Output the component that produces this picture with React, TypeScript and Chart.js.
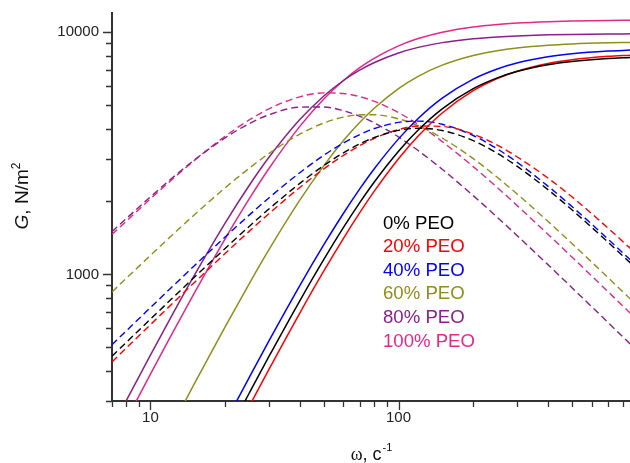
import React, { useEffect, useRef } from 'react';
import { Chart, registerables } from 'chart.js';

Chart.register(...registerables);

// Angular frequency, c^-1
const omega = [7, 8, 10, 12, 15, 20, 25, 30, 40, 50, 60, 70, 80, 100, 120, 150, 200, 250, 300, 400, 500, 700, 860];

const seriesNames = ['0% PEO', '20% PEO', '40% PEO', '60% PEO', '80% PEO', '100% PEO'];
const seriesColors = ['#000000', '#ff0000', '#0000ff', '#8f8f1a', '#8b1f8b', '#e3288a'];

// Storage modulus G' (solid lines), N/m^2
const gStore0 = [26.3, 34.3, 53.5, 76.8, 119, 210, 323, 457, 778, 1153, 1562, 1987, 2412, 3223, 3944, 4827, 5845, 6477, 6882, 7338, 7569, 7784, 7862];
const gStore20 = [23.1, 30.1, 47.0, 67.5, 105, 185, 285, 404, 692, 1033, 1409, 1806, 2211, 3001, 3724, 4638, 5733, 6436, 6895, 7422, 7694, 7948, 8041];
const gStore40 = [30.6, 40.0, 62.3, 89.4, 139, 244, 375, 530, 899, 1326, 1788, 2265, 2737, 3626, 4404, 5341, 6400, 7047, 7456, 7913, 8144, 8357, 8434];
const gStore60 = [78.9, 103, 160, 228, 352, 607, 914, 1261, 2024, 2812, 3567, 4255, 4865, 5850, 6573, 7312, 8013, 8385, 8602, 8830, 8939, 9036, 9071];
const gStore80 = [233, 302, 464, 655, 987, 1628, 2328, 3037, 4356, 5453, 6317, 6984, 7498, 8208, 8653, 9055, 9394, 9560, 9653, 9747, 9791, 9829, 9843];
const gStore100 = [193, 251, 387, 549, 834, 1402, 2048, 2730, 4083, 5298, 6319, 7151, 7819, 8783, 9414, 10001, 10512, 10766, 10909, 11055, 11125, 11186, 11207];

// Loss modulus G'' (dashed lines), N/m^2
const gLoss0 = [459, 524, 653, 781, 971, 1280, 1577, 1860, 2375, 2814, 3176, 3462, 3677, 3932, 4009, 3926, 3565, 3161, 2799, 2238, 1847, 1356, 1115];
const gLoss20 = [435, 497, 620, 742, 923, 1219, 1505, 1779, 2284, 2726, 3100, 3406, 3648, 3961, 4097, 4081, 3790, 3420, 3060, 2500, 2090, 1550, 1280];
const gLoss40 = [512, 585, 729, 872, 1083, 1427, 1756, 2067, 2629, 3104, 3488, 3785, 4002, 4243, 4294, 4166, 3744, 3298, 2908, 2314, 1906, 1397, 1148];
const gLoss60 = [846, 964, 1197, 1426, 1758, 2276, 2742, 3152, 3795, 4218, 4458, 4559, 4561, 4387, 4108, 3656, 3005, 2516, 2151, 1656, 1341, 968, 791];
const gLoss80 = [1499, 1701, 2090, 2457, 2961, 3663, 4190, 4555, 4901, 4908, 4738, 4490, 4217, 3694, 3245, 2716, 2114, 1721, 1448, 1097, 881, 632, 515];
const gLoss100 = [1461, 1660, 2050, 2423, 2948, 3717, 4341, 4823, 5409, 5616, 5582, 5414, 5180, 4655, 4158, 3534, 2786, 2283, 1927, 1465, 1179, 847, 691];

const storageSeries = [gStore0, gStore20, gStore40, gStore60, gStore80, gStore100];
const lossSeries = [gLoss0, gLoss20, gLoss40, gLoss60, gLoss80, gLoss100];

const xMajorTicks = [10, 100];
const xMinorTicks = [7, 8, 9, 20, 30, 40, 50, 60, 70, 80, 90, 200, 300, 400, 500, 600, 700, 800];
const yMajorTicks = [1000, 10000];
const yMinorTicks = [300, 400, 500, 600, 700, 800, 900, 2000, 3000, 4000, 5000, 6000, 7000, 8000, 9000];

const X_MIN = 7;
const X_MAX = 857;
const Y_MIN = 300;
const Y_MAX = 12000;

const SANS = '"Liberation Sans", Arial, Helvetica, sans-serif';
const SERIF = '"Liberation Serif", "Times New Roman", serif';
const AXIS_COLOR = '#333333';

const toPoints = (vals: number[]) => omega.map((w, i) => ({ x: w, y: vals[i] }));

const decorPlugin = {
  id: 'decor',
  afterDraw(chart: any) {
    const ctx = chart.ctx as CanvasRenderingContext2D;
    const area = chart.chartArea;
    const xs = chart.scales.x;
    const ys = chart.scales.y;
    ctx.save();
    // tick marks
    ctx.strokeStyle = AXIS_COLOR;
    ctx.lineWidth = 1.3;
    ctx.beginPath();
    [...xMajorTicks, ...xMinorTicks].forEach((v) => {
      const px = Math.round(xs.getPixelForValue(v)) + 0.5;
      const len = xMajorTicks.includes(v) ? 8 : 5;
      ctx.moveTo(px, area.bottom);
      ctx.lineTo(px, area.bottom + 1 + len);
    });
    [...yMajorTicks, ...yMinorTicks].forEach((v) => {
      const py = Math.round(ys.getPixelForValue(v)) + 0.5;
      const len = yMajorTicks.includes(v) ? 8 : 5;
      ctx.moveTo(area.left, py);
      ctx.lineTo(area.left - 1 - len, py);
    });
    ctx.stroke();

    // y axis title: G, N/m^2
    ctx.fillStyle = '#111111';
    ctx.textBaseline = 'alphabetic';
    ctx.textAlign = 'left';
    const yFont = 19;
    ctx.save();
    ctx.translate(28, 196);
    ctx.rotate(-Math.PI / 2);
    ctx.font = `italic ${yFont}px ${SANS}`;
    const wG = ctx.measureText('G').width;
    ctx.font = `${yFont}px ${SANS}`;
    const wRest = ctx.measureText(', N/m').width;
    ctx.font = `${12}px ${SANS}`;
    const wSup = ctx.measureText('2').width;
    let cx = -(wG + wRest + wSup) / 2;
    ctx.font = `italic ${yFont}px ${SANS}`;
    ctx.fillText('G', cx, 0);
    cx += wG;
    ctx.font = `${yFont}px ${SANS}`;
    ctx.fillText(', N/m', cx, 0);
    cx += wRest;
    ctx.font = `${12}px ${SANS}`;
    ctx.fillText('2', cx, -8);
    ctx.restore();

    // x axis title: ω, c^-1
    const xFont = 18;
    ctx.font = `${xFont}px ${SERIF}`;
    const wW = ctx.measureText('ω').width;
    ctx.font = `${xFont}px ${SANS}`;
    const wC = ctx.measureText(', c').width;
    ctx.font = `${11}px ${SANS}`;
    const wM = ctx.measureText('-1').width;
    let tx = (area.left + area.right) / 2 - (wW + wC + wM) / 2;
    const base = 460;
    ctx.font = `${xFont}px ${SERIF}`;
    ctx.fillText('ω', tx, base);
    tx += wW;
    ctx.font = `${xFont}px ${SANS}`;
    ctx.fillText(', c', tx, base);
    tx += wC;
    ctx.font = `${11}px ${SANS}`;
    ctx.fillText('-1', tx + 1, base - 9);

    // legend (coloured text)
    ctx.font = `18.6px ${SANS}`;
    seriesNames.forEach((name, i) => {
      ctx.fillStyle = seriesColors[i];
      ctx.fillText(name, 383, 228.5 + i * 23.6);
    });
    ctx.restore();
  },
};

export default function App() {
  const canvasRef = useRef<HTMLCanvasElement | null>(null);

  useEffect(() => {
    if (!canvasRef.current) return;
    const datasets: any[] = [];
    seriesNames.forEach((name, i) => {
      datasets.push({
        label: name + " G'",
        data: toPoints(storageSeries[i]),
        borderColor: seriesColors[i],
        borderWidth: 1.5,
        pointRadius: 0,
        fill: false,
        cubicInterpolationMode: 'monotone',
        capBezierPoints: false,
      });
      datasets.push({
        label: name + " G''",
        data: toPoints(lossSeries[i]),
        borderColor: seriesColors[i],
        borderWidth: 1.4,
        borderDash: [7, 4],
        pointRadius: 0,
        fill: false,
        cubicInterpolationMode: 'monotone',
        capBezierPoints: false,
      });
    });

    const chart = new Chart(canvasRef.current, {
      type: 'line',
      data: { datasets },
      plugins: [decorPlugin],
      options: {
        animation: false,
        responsive: false,
        devicePixelRatio: 1,
        layout: { padding: { top: 13, right: 0, left: 0, bottom: 0 } },
        elements: { line: { capBezierPoints: false } },
        plugins: {
          legend: { display: false },
          tooltip: { enabled: false },
        },
        scales: {
          x: {
            type: 'logarithmic',
            position: 'bottom',
            min: X_MIN,
            max: X_MAX,
            grid: { display: false, drawTicks: false },
            border: { display: true, color: AXIS_COLOR, width: 2 },
            ticks: {
              autoSkip: false,
              maxRotation: 0,
              minRotation: 0,
              padding: 8,
              color: '#222222',
              font: { size: 15, family: SANS },
              callback: (v: any) => (xMajorTicks.includes(Number(v)) ? String(v) : ''),
            },
            afterBuildTicks: (s: any) => {
              s.ticks = [...xMajorTicks, ...xMinorTicks].sort((a, b) => a - b).map((v) => ({ value: v }));
            },
            afterFit: (s: any) => {
              s.height = 62;
              s.paddingLeft = 0;
              s.paddingRight = 0;
              s.paddingTop = 0;
              s.paddingBottom = 0;
            },
          },
          y: {
            type: 'logarithmic',
            position: 'left',
            min: Y_MIN,
            max: Y_MAX,
            grid: { display: false, drawTicks: false },
            border: { display: true, color: AXIS_COLOR, width: 2 },
            ticks: {
              autoSkip: false,
              padding: 13,
              color: '#222222',
              font: { size: 15, family: SANS },
              callback: (v: any) => (yMajorTicks.includes(Number(v)) ? String(v) : ''),
            },
            afterBuildTicks: (s: any) => {
              s.ticks = [...yMajorTicks, ...yMinorTicks].sort((a, b) => a - b).map((v) => ({ value: v }));
            },
            afterFit: (s: any) => {
              s.width = 112;
              s.paddingLeft = 0;
              s.paddingRight = 0;
              s.paddingTop = 0;
              s.paddingBottom = 0;
            },
          },
        },
      } as any,
    });
    return () => chart.destroy();
  }, []);

  return (
    <div style={{ position: 'fixed', left: 0, top: 0, width: 630, height: 463, background: '#ffffff' }}>
      <canvas ref={canvasRef} width={630} height={463} style={{ display: 'block' }} />
    </div>
  );
}
